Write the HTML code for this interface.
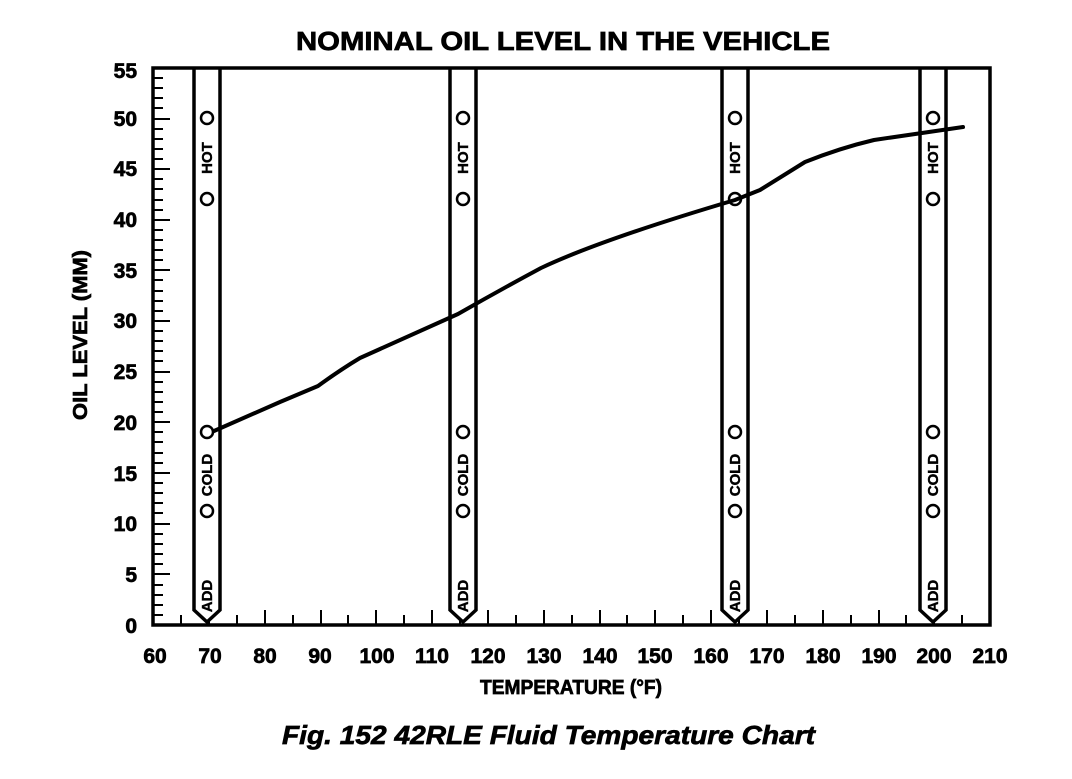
<!DOCTYPE html>
<html><head><style>
body{margin:0;background:#fff;}
svg text{font-family:"Liberation Sans",Arial,sans-serif;font-weight:bold;fill:#000;stroke:#000;stroke-width:0.7;}
</style></head><body>
<svg width="1072" height="774" viewBox="0 0 1072 774" xmlns="http://www.w3.org/2000/svg">
<text x="296" y="50" font-size="26" textLength="534" lengthAdjust="spacingAndGlyphs">NOMINAL OIL LEVEL IN THE VEHICLE</text>
<g stroke="#000" stroke-width="2">
<path d="M153 615h10M153 605h10M153 595h10M153 585h10M153 574h17
M153 564h10M153 554h10M153 544h10M153 534h10M153 524h17
M153 513h10M153 503h10M153 493h10M153 483h10M153 473h17
M153 463h10M153 453h10M153 442h10M153 432h10M153 422h17
M153 412h10M153 402h10M153 392h10M153 382h10M153 372h17
M153 361h10M153 351h10M153 341h10M153 331h10M153 321h17
M153 311h10M153 301h10M153 291h10M153 280h10M153 270h17
M153 260h10M153 250h10M153 240h10M153 230h10M153 220h17
M153 210h10M153 200h10M153 189h10M153 179h10M153 169h17
M153 159h10M153 149h10M153 139h10M153 129h10M153 119h17
M153 108h10M153 98h10M153 88h10M153 78h10"/>
<path d="M181 625v-10M209 625v-15M237 625v-10M265 625v-15M293 625v-10M321 625v-15M348 625v-10M376 625v-15M404 625v-10M432 625v-15M460 625v-10M488 625v-15M516 625v-10M544 625v-15M572 625v-10M600 625v-15M627 625v-10M655 625v-15M683 625v-10M711 625v-15M739 625v-10M767 625v-15M795 625v-10M823 625v-15M851 625v-10M879 625v-15M906 625v-10M934 625v-15M962 625v-10"/>
</g>
<g font-size="21" text-anchor="end">
<text x="137" y="633">0</text><text x="137" y="582">5</text><text x="137" y="531">10</text><text x="137" y="481">15</text><text x="137" y="430">20</text><text x="137" y="379">25</text><text x="137" y="328">30</text><text x="137" y="278">35</text><text x="137" y="227">40</text><text x="137" y="176">45</text><text x="137" y="126">50</text><text x="137" y="78">55</text>
</g>
<g font-size="21" text-anchor="middle">
<text x="155" y="663">60</text><text x="210" y="663">70</text><text x="265" y="663">80</text><text x="320" y="663">90</text><text x="377" y="663">100</text><text x="432" y="663">110</text><text x="488" y="663">120</text><text x="544" y="663">130</text><text x="600" y="663">140</text><text x="655" y="663">150</text><text x="711" y="663">160</text><text x="767" y="663">170</text><text x="823" y="663">180</text><text x="879" y="663">190</text><text x="934" y="663">200</text><text x="990" y="663">210</text>
</g>
<text x="480" y="694" font-size="20" textLength="182" lengthAdjust="spacingAndGlyphs">TEMPERATURE (°F)</text>
<text transform="translate(87,420) rotate(-90)" font-size="20" textLength="170" lengthAdjust="spacingAndGlyphs">OIL LEVEL (MM)</text>
<text x="282" y="744" font-size="26" font-style="italic" textLength="533" lengthAdjust="spacingAndGlyphs">Fig. 152 42RLE Fluid Temperature Chart</text>
<defs>
<g id="dip">
<path d="M-13 68V610L0 622L13 610V68" fill="#fff" stroke="#000" stroke-width="3.5"/>
<circle cx="0" cy="118" r="6" fill="none" stroke="#000" stroke-width="2.5"/>
<circle cx="0" cy="199" r="6" fill="none" stroke="#000" stroke-width="2.5"/>
<circle cx="0" cy="432" r="6" fill="none" stroke="#000" stroke-width="2.5"/>
<circle cx="0" cy="511" r="6" fill="none" stroke="#000" stroke-width="2.5"/>
<text transform="translate(5,158) rotate(-90)" font-size="15" text-anchor="middle" style="stroke-width:0.4">HOT</text>
<text transform="translate(5,475) rotate(-90)" font-size="15" text-anchor="middle" style="stroke-width:0.4">COLD</text>
<text transform="translate(5,596) rotate(-90)" font-size="15" text-anchor="middle" style="stroke-width:0.4">ADD</text>
</g>
</defs>
<use href="#dip" x="207"/>
<use href="#dip" x="463"/>
<use href="#dip" x="735"/>
<use href="#dip" x="933"/>
<rect x="153" y="68" width="837" height="557" fill="none" stroke="#000" stroke-width="3.5"/>
<path d="M214 431 L280 402 L318 386 Q340 370 360 358 L458 314 Q500 290 541 268 Q600 240 735 200 L760 190 L805 162 Q840 148 874 140 L963 127" fill="none" stroke="#000" stroke-width="4" stroke-linecap="round" stroke-linejoin="round"/>
</svg>
</body></html>
